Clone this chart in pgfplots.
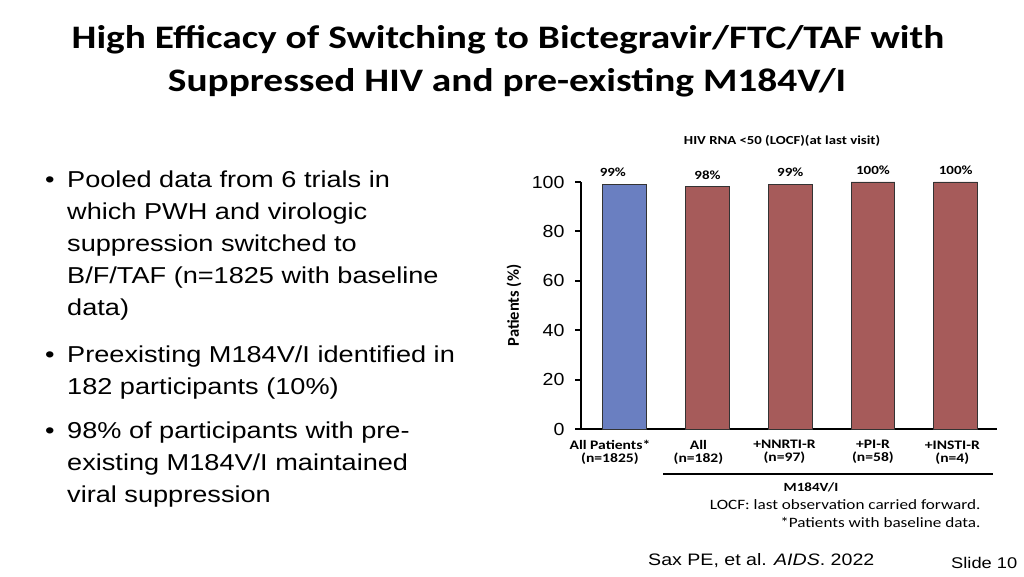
\documentclass[border=0pt]{standalone}
\usepackage{fontspec}
\setmainfont{Liberation Sans}[FakeStretch=1.18]
\newfontfamily\tickfont{Liberation Sans}[FakeStretch=1.12]
\newfontfamily\calfont{Carlito}[FakeStretch=1.2]
\newfontfamily\calplain{Carlito}
\usepackage{pgfplots}
\pgfplotsset{compat=1.18}
\definecolor{barblue}{HTML}{6A7FC1}
\definecolor{barred}{HTML}{A65B5A}
\newcommand{\fs}[1]{\fontsize{#1}{#1}\selectfont}
\begin{document}
\begin{tikzpicture}[x=1pt,y=1pt]
\path[use as bounding box] (0,0) rectangle (1024,576);
% Title
\node[anchor=base] at (508,527) {\calfont\bfseries\fs{32.8}High Efficacy of Switching to Bictegravir/FTC/TAF with};
\node[anchor=base] at (507,484) {\calfont\bfseries\fs{32.8}Suppressed HIV and pre-existing M184V/I};
% Bullets
\begin{scope}[every node/.style={anchor=base west,inner sep=0pt}]
\node at (45,576-188) {\fs{23}\textbullet};
\node at (67,576-188) {\fs{23}Pooled data from 6 trials in};
\node at (67,576-220) {\fs{23}which PWH and virologic};
\node at (67,576-252) {\fs{23}suppression switched to};
\node at (67,576-284) {\fs{23}B/F/TAF (n=1825 with baseline};
\node at (67,576-316) {\fs{23}data)};
\node at (45,576-362) {\fs{23}\textbullet};
\node at (67,576-362) {\fs{23}Preexisting M184V/I identified in};
\node at (67,576-394) {\fs{23}182 participants (10\%)};
\node at (45,576-438) {\fs{23}\textbullet};
\node at (67,576-438) {\fs{23}98\% of participants with pre-};
\node at (67,576-470) {\fs{23}existing M184V/I maintained};
\node at (67,576-502) {\fs{23}viral suppression};
\end{scope}
% Chart
\begin{axis}[
  at={(0,0)}, anchor=south west, xshift=581pt, yshift=147pt,
  scale only axis, width=416pt, height=247pt,
  xmin=-0.53, xmax=4.5, ymin=0, ymax=100,
  axis x line=bottom, axis y line=left,
  axis line style={-, line width=2.2pt, black},
  ytick={0,20,40,60,80,100},
  ytick style={line width=2pt, black},
  major tick length=6pt,
  tick align=outside,
  yticklabel style={font=\tickfont\fs{17.5}, xshift=-7pt},
  xtick={-0.18,0.89,1.93,3.0,3.96},
  xticklabels={{All Patients*\\(n=1825)},{All\\(n=182)},{+NNRTI-R\\(n=97)},{+PI-R\\(n=58)},{+INSTI-R\\(n=4)}},
  xticklabel style={font=\calfont\bfseries\fs{13}, align=center, text depth=0pt, yshift=-2pt},
  xtick style={draw=none},
  ylabel={\calplain\bfseries\fs{16.5}Patients (\%)},
  ylabel style={at={(axis description cs:-0.161,0.5)}, anchor=center},
  /pgf/number format/assume math mode=true,
  ybar, bar width=0.53,
  nodes near coords={\pgfmathprintnumber{\pgfplotspointmeta}\%},
  nodes near coords style={font=\calfont\bfseries\fs{12.5}, yshift=4pt},
  clip=false,
]
\addplot[bar shift=0pt, fill=barblue, draw=black!80, line width=0.9pt,
  nodes near coords style={xshift=-12pt}] coordinates {(0,99)};
\addplot[bar shift=0pt, fill=barred, draw=black!80, line width=0.9pt] coordinates {(1,98) (2,99) (3,100) (4,100)};
\end{axis}
% Chart annotations
\node at (782,435) {\calfont\bfseries\fs{12.3}HIV RNA <50 (LOCF)(at last visit)};
\draw[line width=1.4pt] (663,102) -- (993,102);
\node at (811,89) {\calfont\bfseries\fs{12.5}M184V/I};
\node[anchor=east] at (984,71) {\calfont\fs{14.3}LOCF: last observation carried forward.};
\node[anchor=east] at (984,54) {\calfont\fs{14.3}*Patients with baseline data.};
% Footer
\node[anchor=base west,inner sep=0pt] at (648,11) {\fs{16.6}Sax PE, et al. \textit{AIDS}. 2022};
\node[anchor=base west,inner sep=0pt] at (951,8) {\fs{15.5}Slide 10};
\end{tikzpicture}
\end{document}
